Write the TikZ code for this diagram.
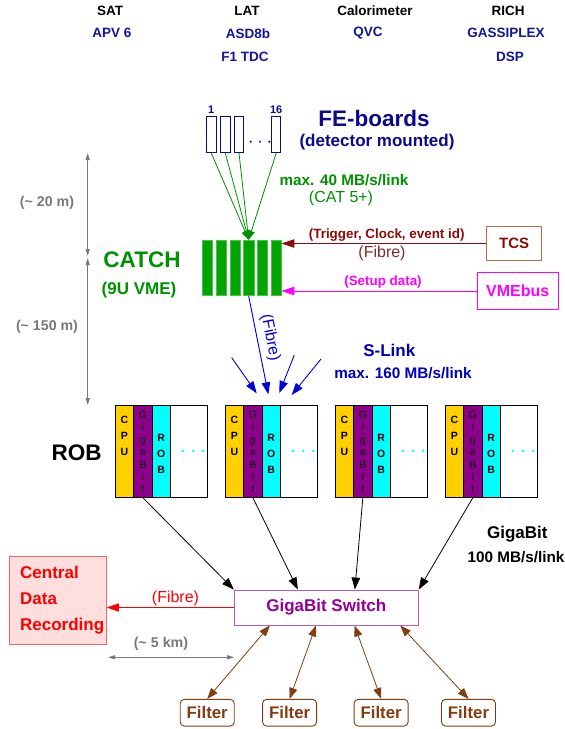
\documentclass[tikz,border=0pt]{standalone}
\usepackage{fontspec}
\setmainfont{Liberation Sans}
\usepackage{tikz}
\usetikzlibrary{arrows.meta, positioning, calc}
\newcommand{\fsz}[2]{\fontsize{#1pt}{#2pt}\selectfont}
\definecolor{hdrblue}{RGB}{20,20,150}
\definecolor{feblue}{RGB}{10,10,140}
\definecolor{linkblue}{RGB}{0,0,220}
\definecolor{catchgreen}{RGB}{0,165,0}
\definecolor{txtgreen}{RGB}{0,145,0}
\definecolor{tcsred}{RGB}{140,10,10}
\definecolor{tcsframe}{RGB}{195,105,65}
\definecolor{fibrered}{RGB}{125,45,45}
\definecolor{vmemag}{RGB}{255,0,255}
\definecolor{distgray}{RGB}{120,120,120}
\definecolor{cpuyellow}{RGB}{255,208,0}
\definecolor{gbpurple}{RGB}{140,0,140}
\definecolor{robcyan}{RGB}{0,255,255}
\definecolor{swframe}{RGB}{190,90,190}
\definecolor{swtext}{RGB}{150,0,150}
\definecolor{cdrfill}{RGB}{255,222,222}
\definecolor{cdrframe}{RGB}{255,100,100}
\definecolor{cdrred}{RGB}{255,0,0}
\definecolor{filterbrown}{RGB}{130,60,15}
\tikzstyle{hdr} = [font=\bfseries\fsz{13.5}{16}, inner sep=0pt]
\tikzstyle{chip} = [hdr, text=hdrblue]
\tikzstyle{feboard} = [draw=feblue, fill=white, line width=0.9pt, minimum width=9.3pt, minimum height=36pt, inner sep=0pt]
\tikzstyle{fenum} = [font=\bfseries\fsz{11}{13}, text=feblue, inner sep=0pt]
\tikzstyle{bigtitle} = [font=\bfseries\fsz{22.5}{26}, inner sep=0pt]
\tikzstyle{subtitle} = [font=\bfseries\fsz{17}{20}, inner sep=0pt]
\tikzstyle{ratelbl} = [font=\bfseries\fsz{15.3}{18}, inner sep=0pt]
\tikzstyle{catchbar} = [fill=catchgreen, draw=catchgreen!70, line width=0.5pt, minimum width=10.3pt, minimum height=55.7pt, inner sep=0pt]
\tikzstyle{catchlink} = [txtgreen, line width=0.8pt, ->, >={Triangle[length=9pt,width=7pt]}]
\tikzstyle{tcsbox} = [draw=tcsframe, line width=0.9pt, minimum width=55pt, minimum height=33.3pt, text=tcsred, font=\bfseries\fsz{15}{18}]
\tikzstyle{vmebox} = [draw=vmemag, line width=0.9pt, minimum width=81pt, minimum height=36.6pt, text=vmemag, font=\bfseries\fsz{16}{19}]
\tikzstyle{tcslink} = [tcsred, line width=0.9pt, ->, >={Triangle[length=13pt,width=8.5pt]}]
\tikzstyle{vmelink} = [vmemag, line width=0.9pt, ->, >={Triangle[length=13pt,width=8.5pt]}]
\tikzstyle{smalllbl} = [font=\bfseries\fsz{13.4}{16}, inner sep=0pt]
\tikzstyle{fibrelbl} = [font=\fsz{16}{19}, inner sep=0pt]
\tikzstyle{distline} = [distgray, line width=0.9pt, {Triangle[length=7pt,width=4pt]}-{Triangle[length=7pt,width=4pt]}]
\tikzstyle{distlbl} = [font=\bfseries\fsz{14.2}{17}, text=distgray, inner sep=0pt]
\tikzstyle{slink} = [linkblue, line width=0.9pt, ->, >={Triangle[length=12pt,width=8.5pt]}]
\tikzstyle{robcol} = [draw=black, line width=0.8pt, minimum height=91.6pt, inner sep=0pt]
\tikzstyle{stackbold} = [font=\bfseries\fsz{10.5}{16}, align=center, inner sep=0pt]
\tikzstyle{stackthin} = [font=\fsz{10.5}{12.4}, align=center, inner sep=0pt]
\tikzstyle{datalink} = [black, line width=0.8pt, ->, >={Triangle[length=12pt,width=8.5pt]}]
\tikzstyle{switchbox} = [draw=swframe, line width=0.9pt, minimum width=184pt, minimum height=35pt, text=swtext, font=\bfseries\fsz{17}{20}]
\tikzstyle{cdrbox} = [draw=cdrframe, fill=cdrfill, line width=0.9pt, minimum width=96.6pt, minimum height=87.3pt]
\tikzstyle{filterbox} = [draw=filterbrown, line width=0.9pt, rounded corners=4pt, minimum width=54pt, minimum height=26.7pt, text=filterbrown, font=\bfseries\fsz{16.8}{20}, inner sep=0pt]
\tikzstyle{filterlink} = [filterbrown, line width=0.8pt, <->, >={Triangle[length=11pt,width=8pt]}]

\begin{document}
\begin{tikzpicture}[x=1pt, y=-1pt]
\useasboundingbox (0,0) rectangle (565,729);

% detectors and their front-end chips
\node[hdr] (sat) at (110,10.7) {SAT};
\node[chip] (apv) at (112,33.3) {APV 6};
\node[hdr] (lat) at (247,10.7) {LAT};
\node[chip] (asd) at (248,33.3) {ASD8b};
\node[chip] (f1tdc) at (245,57) {F1 TDC};
\node[hdr] (calo) at (375,10.7) {Calorimeter};
\node[chip] (qvc) at (368,33.3) {QVC};
\node[hdr] (rich) at (508,10.7) {RICH};
\node[chip] (gassiplex) at (506,33.3) {GASSIPLEX};
\node[chip] (dsp) at (510,57) {DSP};

% front-end boards
\node[feboard] (fe1) at (211.3,134.7) {};
\node[feboard] (fe2) at (225.3,134.7) {};
\node[feboard] (fe3) at (239,134.7) {};
\node[feboard] (fe16) at (276.2,134.7) {};
\node[fenum, above=2.5pt of fe1] (fe1num) {1};
\node[fenum, above=2.5pt of fe16] (fe16num) {16};
\foreach \x in {250.7,260,269.3} \fill[feblue] (\x,141.7) circle (1.2pt);
\node[bigtitle, text=feblue] (fetitle) at (374,118) {FE-boards};
\node[subtitle, text=feblue] (fesub) at (377,142) {(detector mounted)};

% CATCH
\foreach \i in {1,...,6} \node[catchbar] (bar\i) at ({193.85+13.7*\i},267.85) {};
\foreach \b in {fe1,fe2,fe3,fe16} \draw[catchlink] (\b.south) -- (bar4.north);
\node[bigtitle, text=txtgreen] (catch) at (142,260) {CATCH};
\node[subtitle, text=txtgreen] (catchvme) at (139,290) {(9U VME)};
\node[ratelbl, text=txtgreen] (catrate) at (344,180) {max. 40 MB/s/link};
\node[fibrelbl, text=txtgreen] (cat5) at (341,198) {(CAT 5+)};

% TCS and VMEbus
\node[tcsbox] (tcs) at (514.2,243.5) {TCS};
\node[vmebox] (vmebus) at (517.8,291) {VMEbus};
\draw[tcslink] (tcs.west) -- (tcs.west -| bar6.east);
\node[smalllbl, text=tcsred] (trig) at (386.7,235) {(Trigger, Clock, event id)};
\node[fibrelbl, text=fibrered] (tcsfibre) at (382,253) {(Fibre)};
\draw[vmelink] (vmebus.west) -- (vmebus.west -| bar6.east);
\node[smalllbl, text=vmemag] (setup) at (383,281.7) {(Setup data)};

% distances
\coordinate (d20top) at (87.7,153);
\coordinate (d20bot) at (87.7,256);
\coordinate (d150top) at (87.7,258);
\coordinate (d150bot) at (87.7,405);
\draw[distline] (d20top) -- (d20bot);
\draw[distline] (d150top) -- (d150bot);
\node[distlbl] (d20) at (47,203) {(\textasciitilde{} 20 m)};
\node[distlbl] (d150) at (47,327) {(\textasciitilde{} 150 m)};

% S-Link
\coordinate (fibtip) at (268.3,394.3);
\draw[slink] (bar4.south) -- node[pos=0.45, sloped, above=5pt, fibrelbl, text=linkblue] (slfibre) {(Fibre)} (fibtip);
\foreach \xa/\ya/\xb/\yb [count=\n] in {231.7/357.7/256.7/393.3, 294.3/355/279.3/393, 321/359/291.7/395} {
  \coordinate (sl\n a) at (\xa,\ya);
  \coordinate (sl\n b) at (\xb,\yb);
  \draw[slink] (sl\n a) -- (sl\n b);
}
\node[subtitle, text=linkblue!85!black] (slinklbl) at (389.3,350) {S-Link};
\node[ratelbl, text=linkblue!85!black] (slrate) at (403,372.7) {max. 160 MB/s/link};

% ROBs
\node[bigtitle] (roblbl) at (76.7,452.7) {ROB};
\foreach \k in {1,...,4} {
  \pgfmathsetmacro{\xo}{115+110*(\k-1)}
  \node[robcol, fill=cpuyellow, minimum width=18.7pt] (cpu\k) at (\xo+9.35,451.5) {};
  \node[robcol, fill=gbpurple, minimum width=18.3pt] (gb\k) at (\xo+27.85,451.5) {};
  \node[robcol, fill=robcyan, minimum width=18.3pt] (robc\k) at (\xo+46.15,451.5) {};
  \node[robcol, fill=white, minimum width=36.7pt] (spare\k) at (\xo+73.65,451.5) {};
  \node[stackbold] (cputxt\k) at (\xo+9.35,436.3) {C\\P\\U};
  \node[stackthin] (gbtxt\k) at (\xo+27.85,452) {G\\i\\g\\a\\B\\i\\t};
  \node[stackbold] (robtxt\k) at (\xo+46.15,453.5) {R\\O\\B};
  \foreach \d in {67.7,78.2,88.2} \fill[robcyan] (\xo+\d,450.7) circle (1.4pt);
}

% GigaBit switch
\node[switchbox] (switch) at (326.3,607.5) {GigaBit Switch};
\draw[datalink] (gb1.south) -- (switch.north west);
\draw[datalink] (gb2.south) -- ([xshift=64pt]switch.north west);
\draw[datalink] (gb3.south) -- ([xshift=121pt]switch.north west);
\draw[datalink] (gb4.south) -- (switch.north east);
\node[subtitle] (gblbl) at (517.3,534.3) {GigaBit};
\node[ratelbl] (gbrate) at (516,556.7) {100 MB/s/link};

% central data recording
\node[cdrbox] (cdr) at (58,600.3) {};
\node[font=\bfseries\fsz{17}{26}, text=cdrred, align=left, inner sep=0pt] (cdrtxt) at (62.2,600.5) {Central\\Data\\Recording};
\draw[cdrred, line width=0.8pt, ->, >={Triangle[length=12pt,width=8pt]}] (switch.west) -- (switch.west -| cdr.east);
\node[fibrelbl, text=cdrred] (cdrfibre) at (175.5,598.3) {(Fibre)};
\coordinate (kmleft) at (108,657.3);
\coordinate (kmright) at (234.2,657.3);
\draw[distline] (kmleft) -- (kmright);
\node[distlbl] (d5) at (161,644.3) {(\textasciitilde{} 5 km)};

% filters
\foreach \x [count=\n] in {207.2,289.6,381.1,468.5} \node[filterbox] (filter\n) at (\x,712.7) {Filter};
\foreach \o [count=\n] in {36,82.1,120.7,166.4} \draw[filterlink] ([xshift=\o pt]switch.south west) -- (filter\n.north);
\end{tikzpicture}
\end{document}
